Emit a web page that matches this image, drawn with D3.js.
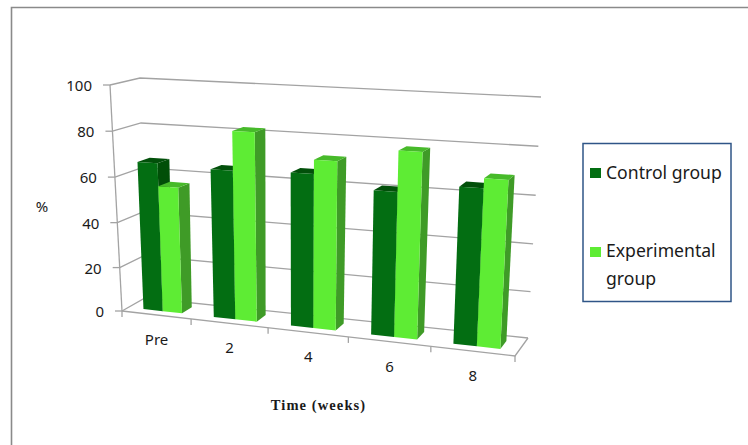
<!DOCTYPE html>
<html>
<head>
<meta charset="utf-8">
<script src="https://d3js.org/d3.v7.min.js"></script>
<style>
  html, body { margin: 0; padding: 0; background: #fff; }
  svg { display: block; }
  text { font-family: "Noto Sans", sans-serif; fill: #1a1a1a; }
</style>
</head>
<body>
<svg width="748" height="445"></svg>
<script>
const categories = ["Pre", "2", "4", "6", "8"];
const seriesNames = ["Control group", "Experimental group"];
const control = [66, 65, 66, 61, 65];
const experimental = [56, 82, 72, 78, 69];
const yTicks = [0, 20, 40, 60, 80, 100];

const svg = d3.select("svg");

// corners of the 3D box as drawn on screen: [x, y]
const box = {
  floorFL: [122, 311], floorFR: [515, 356], floorBL: [145, 298], floorBR: [528, 338],
  topFL: [110, 85], topFR: [528, 105], topBL: [140, 78], topBR: [541, 97]
};

const lerp = (a, b, t) => a + (b - a) * t;
const mix = (p, q, t) => [lerp(p[0], q[0], t), lerp(p[1], q[1], t)];

// u left-right, v front-back (all 0..1), h height in 0..1
function project(u, v, h) {
  const floor = mix(mix(box.floorFL, box.floorFR, u), mix(box.floorBL, box.floorBR, u), v);
  const top = mix(mix(box.topFL, box.topFR, u), mix(box.topBL, box.topBR, u), v);
  return mix(floor, top, h);
}

const y = d3.scalePow().exponent(1.025).domain([0, 100]).range([0, 1]);
const warp = d3.scalePow().exponent(1.08).domain([0, 1]).range([0, 1]);
const x0 = d3.scaleBand().domain(categories).range([0, 1]);
const x1 = d3.scaleBand().domain(seriesNames).range([0, 1]).paddingOuter(0.78);

// position inside a category band, t is 0..1 across the band
const bandU = (c, t) => lerp(warp(x0(c)), warp(x0(c) + x0.bandwidth()), t);

const barFront = 0.28, barBack = 0.73;
const colors = {
  "Control group": { front: "#036e12", top: "#02500a", side: "#014f08" },
  "Experimental group": { front: "#5eec34", top: "#47ba2a", side: "#3f9b27" }
};

const path = pts => "M" + pts.map(p => p.map(n => n.toFixed(2)).join(",")).join("L");
const poly = pts => path(pts) + "Z";

// outer frame
svg.append("path")
  .attr("d", "M11.5,445V7.5H748")
  .attr("fill", "none")
  .attr("stroke", "#8a8a8a")
  .attr("stroke-width", 1.6);

const axisColor = "#a3a3a3";
const grid = svg.append("g").attr("fill", "none").attr("stroke", axisColor).attr("stroke-width", 1.3);

// wall gridlines run front-left -> back-left -> back-right
yTicks.forEach(t => {
  const h = y(t);
  grid.append("path").attr("d", path([project(0, 0, h), project(0, 1, h), project(1, 1, h)]));
  const a = project(0, 0, h);
  grid.append("path").attr("d", path([[a[0] - 7, a[1]], a]));
});
grid.append("path").attr("d", path([project(0, 0, y(0)), project(0, 0, y(100))]));
grid.append("path").attr("d", path([project(0, 0, 0), project(1, 0, 0), project(1, 1, 0)]));

// ticks under the front floor edge
d3.range(categories.length + 1).forEach(i => {
  const p = project(warp(i / categories.length), 0, 0);
  grid.append("path").attr("d", path([p, [p[0], p[1] + 6]]));
});

// bars, left to right so nearer faces paint over
const rows = [control, experimental];
categories.forEach((c, i) => {
  seriesNames.forEach((s, k) => {
    const u0 = bandU(c, x1(s)), u1 = bandU(c, x1(s) + x1.bandwidth());
    const h = y(rows[k][i]);
    const col = colors[s];
    const g = svg.append("g").attr("class", "bar");
    g.append("path").attr("fill", col.side).attr("d", poly([
      project(u1, barFront, 0), project(u1, barBack, 0), project(u1, barBack, h), project(u1, barFront, h)
    ]));
    g.append("path").attr("fill", col.top).attr("d", poly([
      project(u0, barFront, h), project(u1, barFront, h), project(u1, barBack, h), project(u0, barBack, h)
    ]));
    g.append("path").attr("fill", col.front).attr("d", poly([
      project(u0, barFront, 0), project(u1, barFront, 0), project(u1, barFront, h), project(u0, barFront, h)
    ]));
  });
});

// value labels
yTicks.forEach(t => {
  const a = project(0, 0, y(t));
  svg.append("text")
    .attr("x", a[0] - 18)
    .attr("y", a[1] + 6)
    .attr("text-anchor", "end")
    .style("font-size", "15px")
    .text(t);
});

// category labels
categories.forEach(c => {
  const a = project(bandU(c, 0.5), 0, 0);
  svg.append("text")
    .attr("x", a[0])
    .attr("y", a[1] + 30)
    .attr("text-anchor", "middle")
    .style("font-size", "15px")
    .text(c);
});

svg.append("text")
  .attr("x", 42)
  .attr("y", 212)
  .attr("text-anchor", "middle")
  .style("font-size", "15px")
  .text("%");

svg.append("text")
  .attr("x", 318.5)
  .attr("y", 410)
  .attr("text-anchor", "middle")
  .style("font-family", "'Liberation Serif', serif")
  .style("font-weight", "bold")
  .style("font-size", "14.5px")
  .style("letter-spacing", "1.1px")
  .text("Time (weeks)");

// legend
const legend = svg.append("g");
legend.append("rect")
  .attr("x", 583)
  .attr("y", 143.5)
  .attr("width", 148)
  .attr("height", 158)
  .attr("fill", "#fff")
  .attr("stroke", "#2f5587")
  .attr("stroke-width", 1.5);

const legendRows = [
  { key: "Control group", lines: ["Control group"], y: 179, swatch: 168 },
  { key: "Experimental group", lines: ["Experimental", "group"], y: 257, swatch: 247 }
];
legendRows.forEach(d => {
  legend.append("rect")
    .attr("x", 590)
    .attr("y", d.swatch)
    .attr("width", 11)
    .attr("height", 10)
    .attr("fill", colors[d.key].front);
  d.lines.forEach((line, i) => {
    legend.append("text")
      .attr("x", 606)
      .attr("y", d.y + i * 28)
      .style("font-size", "17.6px")
      .text(line);
  });
});
</script>
</body>
</html>
